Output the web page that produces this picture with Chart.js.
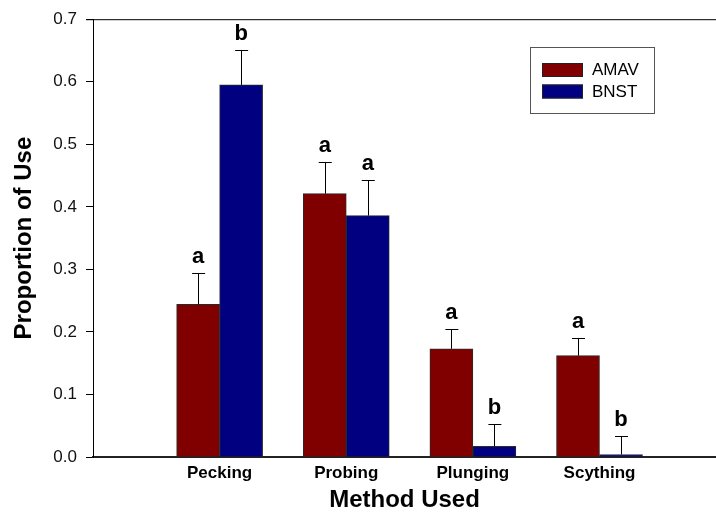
<!DOCTYPE html>
<html>
<head>
<meta charset="utf-8">
<title>Proportion of Use by Method</title>
<script src="https://cdn.jsdelivr.net/npm/chart.js@4/dist/chart.umd.min.js"></script>
<style>
  html, body { margin: 0; padding: 0; background: #fff; overflow: hidden; }
</style>
</head>
<body>
<canvas id="methodChart" width="716" height="515"></canvas>
<script>
// values
const categories = ['Pecking', 'Probing', 'Plunging', 'Scything'];
const amavMean = [0.244, 0.421, 0.173, 0.162];
const amavErr = [0.050, 0.050, 0.032, 0.028];
const amavLetters = ['a', 'a', 'a', 'a'];
const bnstMean = [0.595, 0.386, 0.017, 0.004];
const bnstErr = [0.056, 0.057, 0.036, 0.030];
const bnstLetters = ['b', 'a', 'b', 'b'];
const yTicks = [0, 0.1, 0.2, 0.3, 0.4, 0.5, 0.6, 0.7];

const FONT = 'Arial, "Liberation Sans", sans-serif';

// error bars (upper only) and significance letters
const errorBars = {
  id: 'errorBars',
  afterDatasetsDraw(chart) {
    const ctx = chart.ctx;
    const y = chart.scales.y;
    chart.data.datasets.forEach(function(ds, d) {
      const meta = chart.getDatasetMeta(d);
      meta.data.forEach(function(bar, i) {
        const top = y.getPixelForValue(ds.means[i] + ds.errs[i]);
        ctx.save();
        ctx.strokeStyle = '#000';
        ctx.lineWidth = 1;
        ctx.beginPath();
        ctx.moveTo(Math.round(bar.x) + 0.5, bar.y);
        ctx.lineTo(Math.round(bar.x) + 0.5, Math.round(top) + 0.5);
        ctx.moveTo(bar.x - 6, Math.round(top) + 0.5);
        ctx.lineTo(bar.x + 7, Math.round(top) + 0.5);
        ctx.stroke();
        ctx.fillStyle = '#000';
        ctx.font = 'bold 22px ' + FONT;
        ctx.textAlign = 'center';
        ctx.textBaseline = 'alphabetic';
        ctx.fillText(ds.letters[i], bar.x, top - 10);
        ctx.restore();
      });
    });
  }
};

// top frame line and boxed legend inside the plot
const frameAndLegend = {
  id: 'frameAndLegend',
  afterDraw(chart) {
    const ctx = chart.ctx;
    const area = chart.chartArea;
    ctx.save();
    ctx.strokeStyle = '#000';
    ctx.lineWidth = 1;
    ctx.beginPath();
    ctx.moveTo(area.left - 7, area.top + 0.5);
    ctx.lineTo(area.right, area.top + 0.5);
    ctx.stroke();

    // legend box
    ctx.strokeStyle = '#555';
    ctx.strokeRect(530.5, 47.5, 124, 66);
    ctx.font = '17px ' + FONT;
    ctx.textAlign = 'left';
    ctx.textBaseline = 'middle';
    chart.data.datasets.forEach(function(ds, d) {
      const sy = 63 + d * 21.5;
      ctx.fillStyle = ds.backgroundColor;
      ctx.fillRect(542, sy, 41, 14);
      ctx.strokeStyle = '#222';
      ctx.strokeRect(542.5, sy + 0.5, 40, 13);
      ctx.fillStyle = '#000';
      ctx.fillText(ds.label, 592, sy + 7.5);
    });
    ctx.restore();
  }
};

const ctx = document.getElementById('methodChart').getContext('2d');
const methodChart = new Chart(ctx, {
  type: 'bar',
  data: {
    datasets: [
      {
        label: 'AMAV',
        data: categories.map(function(c, i) { return { x: i + 1, y: amavMean[i] }; }),
        means: amavMean,
        errs: amavErr,
        letters: amavLetters,
        backgroundColor: '#800000',
        borderColor: '#2a2a2a',
        borderWidth: 1,
        barThickness: 43
      },
      {
        label: 'BNST',
        data: categories.map(function(c, i) { return { x: i + 1, y: bnstMean[i] }; }),
        means: bnstMean,
        errs: bnstErr,
        letters: bnstLetters,
        backgroundColor: '#000080',
        borderColor: '#2a2a2a',
        borderWidth: 1,
        barThickness: 43
      }
    ]
  },
  options: {
    responsive: false,
    animation: false,
    layout: { padding: { top: 14, right: 0, left: 0, bottom: 0 } },
    plugins: {
      legend: { display: false },
      tooltip: { enabled: false }
    },
    scales: {
      x: {
        type: 'linear',
        min: 0,
        max: 4.92,
        offset: false,
        grid: { display: false, drawTicks: false, offset: false },
        border: { display: true, color: '#222', width: 2 },
        ticks: {
          stepSize: 1,
          includeBounds: false,
          padding: 6,
          color: '#000',
          font: { family: FONT, size: 17, weight: 'bold' },
          callback: function(v) { return categories[v - 1] || ''; }
        },
        title: {
          display: true,
          text: 'Method Used',
          color: '#000',
          font: { family: FONT, size: 24, weight: 'bold' },
          padding: { top: 0, bottom: 0 }
        },
        afterFit: function(scale) { scale.height = 58; }
      },
      y: {
        min: 0,
        max: 0.7,
        grid: { drawOnChartArea: false, drawTicks: true, tickLength: 7, color: '#000' },
        border: { display: true, color: '#000', width: 1 },
        afterBuildTicks: function(scale) {
          scale.ticks = yTicks.map(function(v) { return { value: v }; });
        },
        ticks: {
          padding: 9,
          color: '#111',
          font: { family: FONT, size: 17 },
          callback: function(v) { return Number(v).toFixed(1); }
        },
        title: {
          display: true,
          text: 'Proportion of Use',
          color: '#000',
          font: { family: FONT, size: 24, weight: 'bold' },
          padding: { top: 10, bottom: 0 }
        },
        afterFit: function(scale) { scale.width = 93; }
      }
    }
  },
  plugins: [errorBars, frameAndLegend]
});
</script>
</body>
</html>
